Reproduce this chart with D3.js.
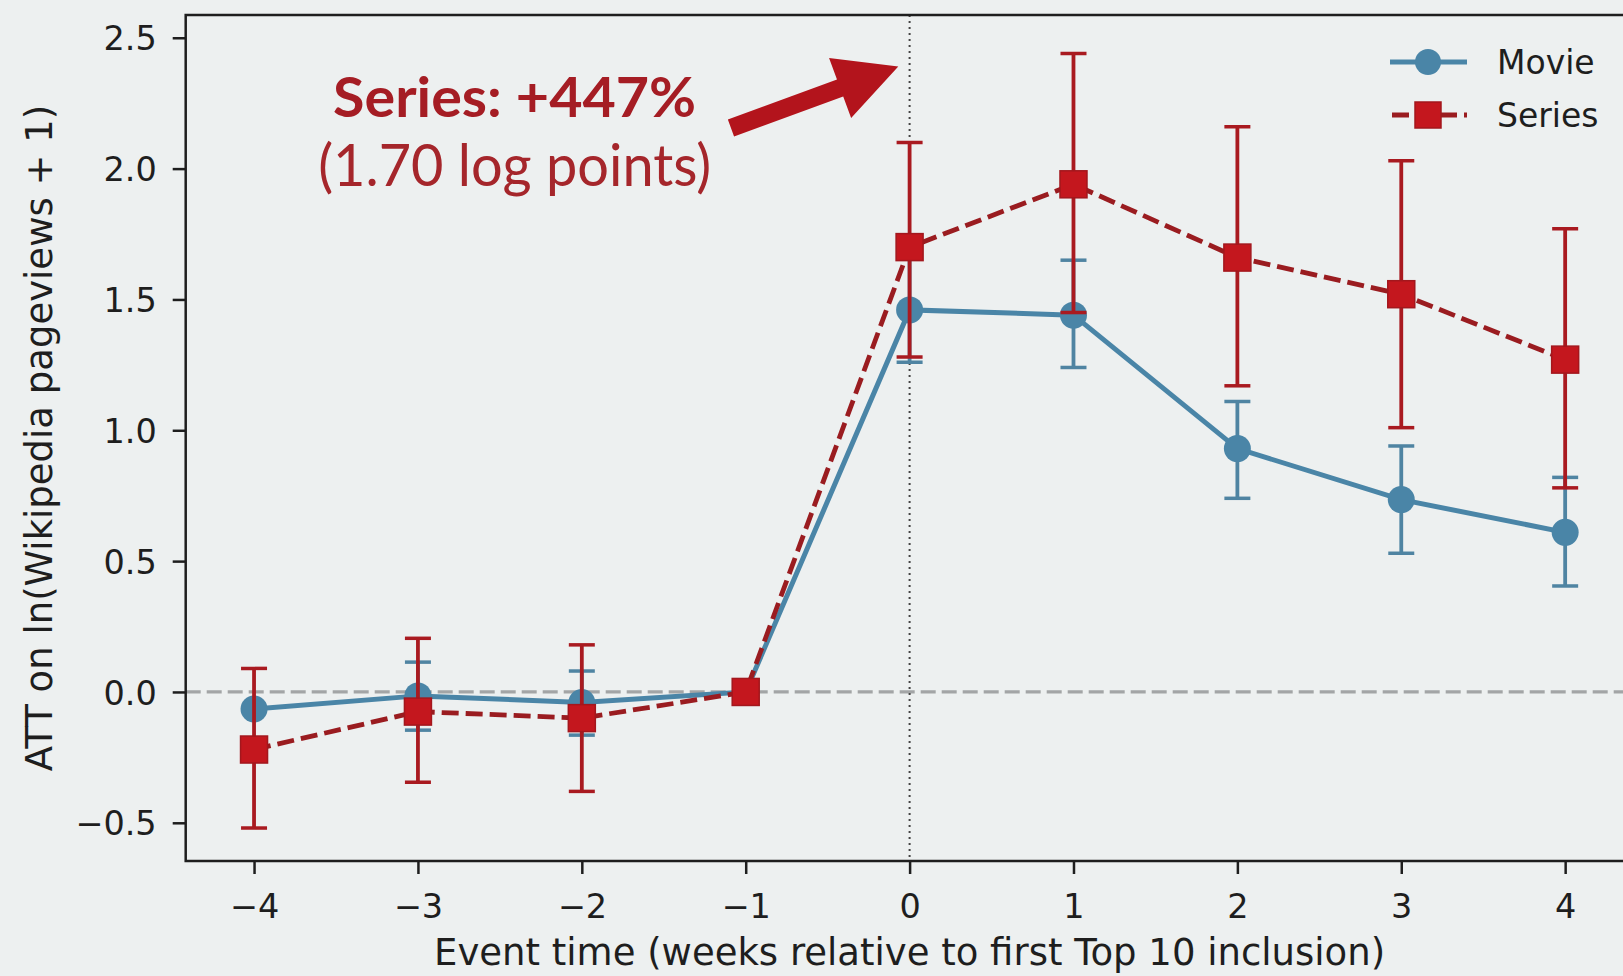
<!DOCTYPE html>
<html>
<head>
<meta charset="utf-8">
<script src="https://cdn.jsdelivr.net/npm/d3@7"></script>
<style>
  html, body { margin: 0; padding: 0; background: #edf0f0; overflow: hidden; }
  svg { display: block; }
</style>
</head>
<body>
<svg id="chart" width="1623" height="976"></svg>
<script>
// Event-study estimates: ATT on ln(Wikipedia pageviews + 1) by week relative to first Top 10 inclusion
const weeks = [-4, -3, -2, -1, 0, 1, 2, 3, 4];

const movieATT = [-0.065, -0.015, -0.04, 0, 1.46, 1.44, 0.93, 0.735, 0.61];
const movieLo  = [null, -0.146, -0.165, null, 1.26, 1.24, 0.74, 0.53, 0.405];
const movieHi  = [null,  0.114,  0.08,  null, 1.66, 1.65, 1.11, 0.94, 0.82];

const seriesATT = [-0.22, -0.075, -0.10, 0, 1.70, 1.94, 1.66, 1.52, 1.27];
const seriesLo  = [-0.52, -0.345, -0.38, null, 1.28, 1.45, 1.17, 1.01, 0.78];
const seriesHi  = [ 0.09,  0.205,  0.18, null, 2.10, 2.44, 2.16, 2.03, 1.77];

const yTicks = [-0.5, 0.0, 0.5, 1.0, 1.5, 2.0, 2.5];
const xTicks = [-4, -3, -2, -1, 0, 1, 2, 3, 4];

const seriesNames = ["Movie", "Series"];
const xLabel = "Event time (weeks relative to first Top 10 inclusion)";
const yLabel = "ATT on ln(Wikipedia pageviews + 1)";
const calloutTitle = "Series: +447%";
const calloutSub = "(1.70 log points)";

// ---- layout ----
const svg = d3.select("#chart");
const plot = { left: 185.7, right: 1633.5, top: 15, bottom: 861 };

const x = d3.scaleLinear().domain([-4.417, 4.417]).range([plot.left, plot.right]);
const y = d3.scaleLinear().domain([-0.646, 2.587]).range([plot.bottom, plot.top]);

const BLUE = "#4a85a7";
const BLUE_BAR = "#4f84a2";
const RED = "#c4171e";
const RED_LINE = "#9a1c20";
const RED_BAR = "#a91a20";
const INK = "#1e1e1e";

svg.append("rect").attr("width", 1623).attr("height", 976).attr("fill", "#edf0f0");

svg.append("clipPath").attr("id", "plotclip")
  .append("rect")
  .attr("x", plot.left).attr("y", plot.top)
  .attr("width", plot.right - plot.left).attr("height", plot.bottom - plot.top);

const g = svg.append("g").attr("clip-path", "url(#plotclip)");

// zero reference line
g.append("line")
  .attr("x1", plot.left).attr("x2", plot.right)
  .attr("y1", y(0)).attr("y2", y(0))
  .attr("stroke", "#a3a5a6").attr("stroke-width", 3.2)
  .attr("stroke-dasharray", "15 6");

// treatment onset line
g.append("line")
  .attr("x1", x(0)).attr("x2", x(0))
  .attr("y1", plot.top).attr("y2", plot.bottom)
  .attr("stroke", "#444").attr("stroke-width", 2)
  .attr("stroke-dasharray", "2 4");

function drawSeries(vals, lo, hi, opts) {
  const pts = weeks.map((w, i) => ({ w, v: vals[i], lo: lo[i], hi: hi[i] }));
  const layer = g.append("g");
  const capHalf = 13;
  const withCI = pts.filter(p => p.lo !== null && p.hi !== null);

  layer.selectAll("line.bar").data(withCI).join("line")
    .attr("x1", p => x(p.w)).attr("x2", p => x(p.w))
    .attr("y1", p => y(p.lo)).attr("y2", p => y(p.hi))
    .attr("stroke", opts.barColor).attr("stroke-width", 3.8);
  ["lo", "hi"].forEach(k => {
    layer.selectAll("line.cap-" + k).data(withCI).join("line")
      .attr("x1", p => x(p.w) - capHalf).attr("x2", p => x(p.w) + capHalf)
      .attr("y1", p => y(p[k])).attr("y2", p => y(p[k]))
      .attr("stroke", opts.barColor).attr("stroke-width", 3.5);
  });

  layer.append("path")
    .datum(pts)
    .attr("d", d3.line().x(p => x(p.w)).y(p => y(p.v)))
    .attr("fill", "none")
    .attr("stroke", opts.lineColor)
    .attr("stroke-width", opts.lineWidth)
    .attr("stroke-dasharray", opts.dash || null);

  if (opts.marker === "circle") {
    layer.selectAll("circle").data(pts).join("circle")
      .attr("cx", p => x(p.w)).attr("cy", p => y(p.v)).attr("r", 13.5)
      .attr("fill", opts.markerColor);
  } else {
    const s = 27;
    layer.selectAll("rect").data(pts).join("rect")
      .attr("x", p => x(p.w) - s / 2).attr("y", p => y(p.v) - s / 2)
      .attr("width", s).attr("height", s)
      .attr("fill", opts.markerColor)
      .attr("stroke", "#a3171d").attr("stroke-width", 1.5);
  }
}

drawSeries(movieATT, movieLo, movieHi, {
  barColor: BLUE_BAR, lineColor: BLUE, lineWidth: 5, markerColor: BLUE, marker: "circle"
});
drawSeries(seriesATT, seriesLo, seriesHi, {
  barColor: RED_BAR, lineColor: RED_LINE, lineWidth: 4.8, markerColor: RED, marker: "square", dash: "17 7"
});

// ---- axes ----
const yAxis = d3.axisLeft(y).tickValues(yTicks).tickFormat(d3.format(".1f"))
  .tickSize(13).tickPadding(16);
const xAxis = d3.axisBottom(x).tickValues(xTicks).tickFormat(d3.format("d"))
  .tickSize(13).tickPadding(19);

const ya = svg.append("g").attr("transform", `translate(${plot.left},0)`).call(yAxis);
const xa = svg.append("g").attr("transform", `translate(0,${plot.bottom})`).call(xAxis);
[ya, xa].forEach(a => {
  a.select(".domain").remove();
  a.selectAll(".tick line").attr("stroke", INK).attr("stroke-width", 2.5);
  a.selectAll(".tick text")
    .attr("fill", INK)
    .style("font-family", "'DejaVu Sans', sans-serif")
    .style("font-size", "33.5px");
});
ya.selectAll(".tick text").attr("dy", "0.36em");
xa.selectAll(".tick text").attr("dy", "0.76em");

// spines
svg.append("rect")
  .attr("x", plot.left).attr("y", plot.top)
  .attr("width", plot.right - plot.left).attr("height", plot.bottom - plot.top)
  .attr("fill", "none").attr("stroke", INK).attr("stroke-width", 2.5);

// axis titles
svg.append("text")
  .attr("x", (plot.left + plot.right) / 2).attr("y", 965)
  .attr("text-anchor", "middle")
  .style("font-family", "'DejaVu Sans', sans-serif").style("font-size", "37px")
  .attr("fill", INK)
  .text(xLabel);

svg.append("text")
  .attr("transform", `translate(52,${(plot.top + plot.bottom) / 2}) rotate(-90)`)
  .attr("text-anchor", "middle")
  .style("font-family", "'DejaVu Sans', sans-serif").style("font-size", "37px")
  .attr("fill", INK)
  .text(yLabel);

// ---- legend ----
const leg = svg.append("g");
const legX0 = 1390, legX1 = 1467, legMid = 1428;
const legRows = [
  { name: seriesNames[0], y: 62, marker: "circle" },
  { name: seriesNames[1], y: 115, marker: "square" }
];
legRows.forEach(r => {
  if (r.marker === "circle") {
    leg.append("line").attr("x1", legX0).attr("x2", legX1).attr("y1", r.y).attr("y2", r.y)
      .attr("stroke", BLUE).attr("stroke-width", 5);
    leg.append("circle").attr("cx", legMid).attr("cy", r.y).attr("r", 13).attr("fill", BLUE);
  } else {
    leg.append("line").attr("x1", legX0 + 2).attr("x2", legX1).attr("y1", r.y).attr("y2", r.y)
      .attr("stroke", RED_LINE).attr("stroke-width", 4.8).attr("stroke-dasharray", "17 7");
    leg.append("rect").attr("x", legMid - 13).attr("y", r.y - 13).attr("width", 26).attr("height", 26)
      .attr("fill", RED).attr("stroke", "#a3171d").attr("stroke-width", 1.5);
  }
  leg.append("text")
    .attr("x", 1497).attr("y", r.y).attr("dy", "0.36em")
    .style("font-family", "'DejaVu Sans', sans-serif").style("font-size", "33px")
    .attr("fill", INK)
    .text(r.name);
});

// ---- callout ----
const calloutX = -2.41;
svg.append("text")
  .attr("x", x(calloutX)).attr("y", y(2.197))
  .attr("text-anchor", "middle")
  .attr("textLength", 363).attr("lengthAdjust", "spacingAndGlyphs")
  .style("font-family", "Lato, 'Open Sans', sans-serif").style("font-weight", "bold")
  .style("font-size", "55px")
  .attr("fill", "#a51d24")
  .text(calloutTitle);
svg.append("text")
  .attr("x", x(calloutX)).attr("y", y(1.935))
  .attr("text-anchor", "middle")
  .attr("textLength", 393).attr("lengthAdjust", "spacingAndGlyphs")
  .style("font-family", "Lato, 'Open Sans', sans-serif")
  .style("font-size", "58px")
  .attr("fill", "#a5262b")
  .text(calloutSub);

// arrow from callout toward the onset week
(function drawArrow() {
  const sx = x(-1.09), sy = y(2.155);
  const tx = x(-0.069), ty = y(2.39);
  const dx = tx - sx, dy = ty - sy;
  const len = Math.hypot(dx, dy);
  const ux = dx / len, uy = dy / len;
  const nx = -uy, ny = ux;
  const shaftW = 18, headW = 64, headL = 62;
  const bx = tx - ux * headL, by = ty - uy * headL;
  const pts = [
    [sx + nx * shaftW / 2, sy + ny * shaftW / 2],
    [bx + nx * shaftW / 2, by + ny * shaftW / 2],
    [bx + nx * headW / 2, by + ny * headW / 2],
    [tx, ty],
    [bx - nx * headW / 2, by - ny * headW / 2],
    [bx - nx * shaftW / 2, by - ny * shaftW / 2],
    [sx - nx * shaftW / 2, sy - ny * shaftW / 2]
  ];
  svg.append("path")
    .attr("d", "M" + pts.map(p => p.join(",")).join("L") + "Z")
    .attr("fill", "#b3141c");
})();
</script>
</body>
</html>
